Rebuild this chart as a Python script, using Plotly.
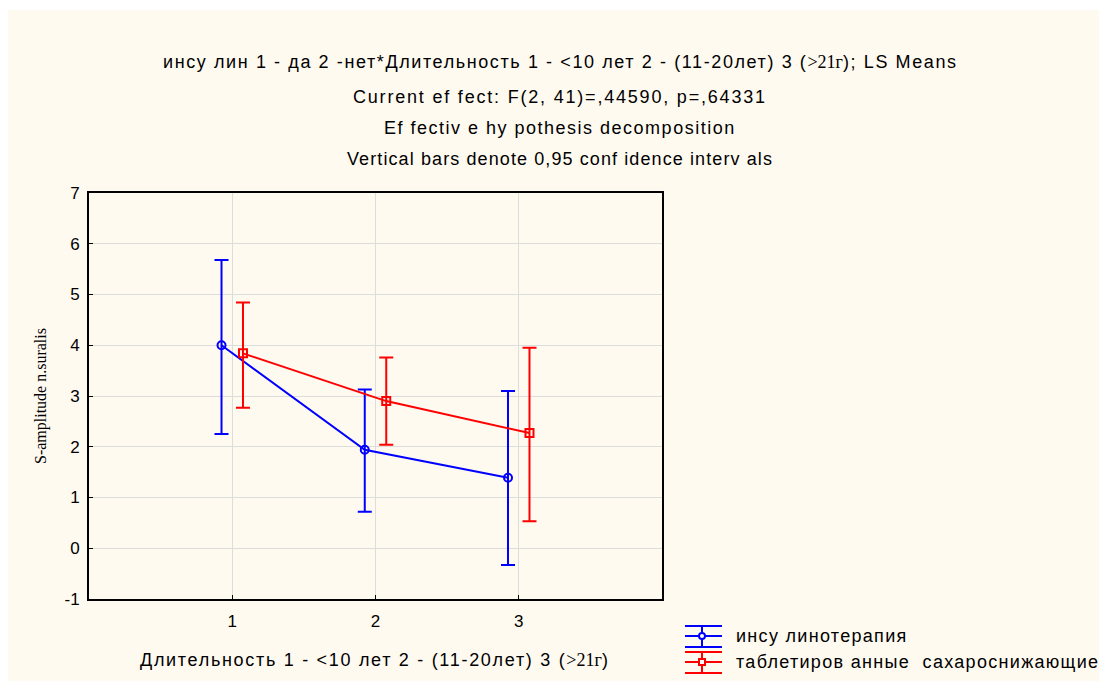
import plotly.graph_objects as go

# LS means with 0.95 confidence limits by duration group
groups = [1, 2, 3]
insulin_mean = [4.00, 1.94, 1.39]
insulin_upper = [5.68, 3.13, 3.10]
insulin_lower = [2.25, 0.72, -0.33]
tablet_mean = [3.84, 2.90, 2.27]
tablet_upper = [4.84, 3.76, 3.95]
tablet_lower = [2.77, 2.04, 0.53]
series_names = ["инсу линотерапия", "таблетиров анные  сахароснижающие"]
y_ticks = [-1, 0, 1, 2, 3, 4, 5, 6, 7]
y_ticktext = ["-1", "0", "1", "2", "3", "4", "5", "6", "7"]
title_lines = [
    "инсу лин 1 - да 2 -нет*Длительность 1 - <10 лет 2 - (11-20лет) 3 "
    "(<span style='font-family:Liberation Serif;letter-spacing:0px'>&gt;21г</span>); LS Means",
    "Current ef fect: F(2, 41)=,44590, p=,64331",
    "Ef fectiv e hy pothesis decomposition",
    "Vertical bars denote 0,95 conf idence interv als",
]
x_title = ("Длительность 1 - <10 лет 2 - (11-20лет) 3 "
           "(<span style='font-family:Liberation Serif;letter-spacing:0px'>&gt;21г</span>)")
y_title = "S-amplitude n.suralis"

colors = ["#0000FF", "#FF0000"]
symbols = ["circle-open", "square-open"]
offset = 0.075

# plot-area geometry in pixels, used to place decorations in paper units
PL, PR, PT, PB = 89, 662, 193, 599
PW, PH = PR - PL, PB - PT


def px(x):
    return (x - PL) / PW


def py(y):
    return (PB - y) / PH


def spaced(text, sp):
    return f"<span style='letter-spacing:{sp}px'>{text}</span>"


fig = go.Figure()


def add_series(name, means, upper, lower, shift, color, symbol):
    fig.add_trace(go.Scatter(
        x=[g + shift for g in groups],
        y=means,
        name=name,
        mode="lines+markers",
        line=dict(color=color, width=2),
        marker=dict(symbol=symbol, size=8, color=color,
                    line=dict(color=color, width=2)),
        error_y=dict(
            type="data",
            symmetric=False,
            array=[u - m for u, m in zip(upper, means)],
            arrayminus=[m - l for m, l in zip(means, lower)],
            color=color,
            thickness=2,
            width=7,
        ),
        showlegend=False,
    ))


add_series(series_names[0], insulin_mean, insulin_upper, insulin_lower,
           -offset, colors[0], symbols[0])
add_series(series_names[1], tablet_mean, tablet_upper, tablet_lower,
           offset, colors[1], symbols[1])

# cream backdrop behind the whole chart
fig.add_shape(type="rect", xref="paper", yref="paper", layer="below",
              x0=px(8), x1=px(1105), y0=py(681), y1=py(10),
              fillcolor="#FFFAF0", line=dict(width=0))

title_y = [62, 97, 128, 159]
title_spacing = [1.6, 1.8, 1.5, 1.1]
for text, ty, sp in zip(title_lines, title_y, title_spacing):
    fig.add_annotation(text=spaced(text, sp), xref="paper", yref="paper",
                       x=px(560), y=py(ty),
                       showarrow=False, xanchor="center", yanchor="middle",
                       font=dict(family="Liberation Sans", size=18,
                                 color="#000000"))

# axis titles
fig.add_annotation(text=spaced(x_title, 1.7), xref="paper", yref="paper",
                   x=px(375), y=py(660), showarrow=False,
                   xanchor="center", yanchor="middle",
                   font=dict(family="Liberation Sans", size=18, color="#000000"))
fig.add_annotation(text=y_title, xref="paper", yref="paper",
                   x=px(41), y=py(396), showarrow=False, textangle=-90,
                   xanchor="center", yanchor="middle",
                   font=dict(family="Liberation Serif", size=16, color="#000000"))

# legend: error-bar glyph with marker, then series name
legend_rows = [636, 662]
for name, color, symbol, ry in zip(series_names, colors, symbols, legend_rows):
    for dy in (-10, 0, 11):
        fig.add_shape(type="line", xref="paper", yref="paper",
                      x0=px(685), x1=px(722), y0=py(ry + dy), y1=py(ry + dy),
                      line=dict(color=color, width=2))
    fig.add_shape(type="line", xref="paper", yref="paper",
                  x0=px(702), x1=px(702), y0=py(ry - 10), y1=py(ry + 11),
                  line=dict(color=color, width=2))
    fig.add_shape(type="circle" if symbol.startswith("circle") else "rect",
                  xref="paper", yref="paper",
                  x0=px(699), x1=px(705), y0=py(ry + 3), y1=py(ry - 3),
                  line=dict(color=color, width=2), fillcolor="#FFFFFF")
    fig.add_annotation(text=spaced(name, 1.3), xref="paper", yref="paper",
                       x=px(734), y=py(ry), showarrow=False,
                       xanchor="left", yanchor="middle",
                       font=dict(family="Liberation Sans", size=18,
                                 color="#000000"))

fig.update_layout(
    width=1099, height=681,
    margin=dict(l=PL, r=1099 - PR, t=PT, b=681 - PB),
    paper_bgcolor="#FFFFFF",
    plot_bgcolor="#FFFFFF",
    font=dict(family="Liberation Sans", size=17, color="#000000"),
    showlegend=False,
    xaxis=dict(
        range=[0, 4],
        tickvals=groups,
        ticktext=[str(g) for g in groups],
        showgrid=True, gridcolor="#DDDDDD", gridwidth=1,
        zeroline=False,
        showline=True, linecolor="#000000", linewidth=2, mirror=True,
        ticks="inside", ticklen=4, tickcolor="#000000",
        tickfont=dict(size=17),
        ticklabelstandoff=6,
    ),
    yaxis=dict(
        range=[-1, 7],
        tickvals=y_ticks,
        ticktext=y_ticktext,
        showgrid=True, gridcolor="#DDDDDD", gridwidth=1,
        zeroline=False,
        showline=True, linecolor="#000000", linewidth=2, mirror=True,
        ticks="inside", ticklen=4, tickcolor="#000000",
        tickfont=dict(size=17),
        ticklabelstandoff=4,
    ),
)

fig.write_html("out.html")
